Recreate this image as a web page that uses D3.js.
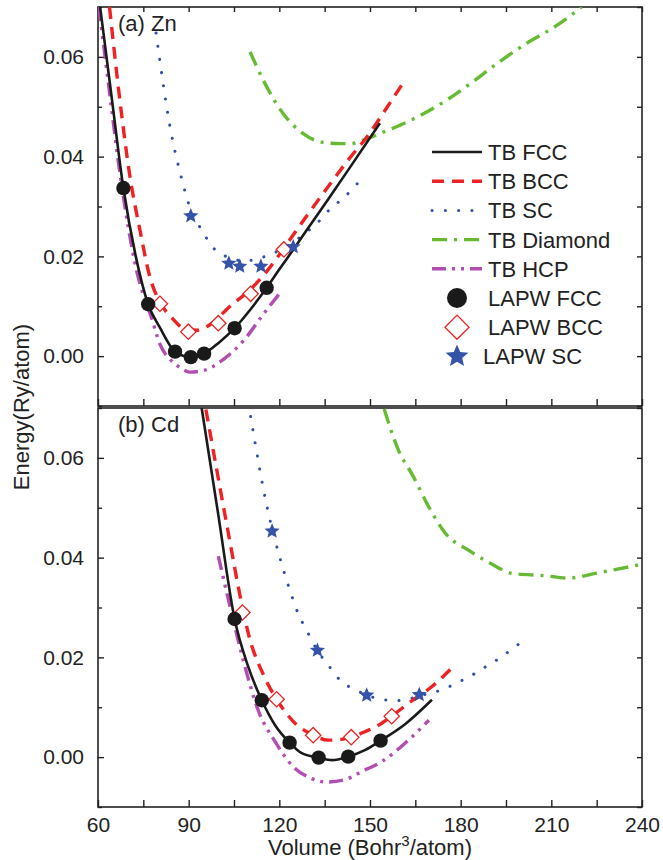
<!DOCTYPE html>
<html><head><meta charset="utf-8">
<script src="https://cdn.jsdelivr.net/npm/d3@7"></script>
<style>
html,body{margin:0;padding:0;background:#fff;}
svg text{font-family:"Liberation Sans",Arial,Helvetica,sans-serif;fill:#222;}
</style></head>
<body>
<svg id="chart" width="663" height="860"></svg>
<script>
// ---------- DATA ----------
const xTicks = [60, 90, 120, 150, 180, 210, 240];
const yTicks = [0.00, 0.02, 0.04, 0.06];
const panelLabels = ["(a) Zn", "(b) Cd"];
const legendLabels = ["TB FCC","TB BCC","TB SC","TB Diamond","TB HCP","LAPW FCC","LAPW BCC","LAPW SC"];

// Panel (a) Zn : TB curves [volume, energy]
const znTbFcc = [[60.7,0.070],[64.5,0.052],[68.4,0.0337],[72.5,0.020],[76.6,0.0104],[80.5,0.0057],[85.5,0.0009],[90.7,-0.0002],[95.1,0.0005],[100,0.0027],[105.2,0.0056],[110.5,0.0094],[115.8,0.0137],[120,0.0174],[125,0.0217],[130,0.0261],[136.8,0.0320],[145,0.0393],[153.3,0.0467]];
const znTbBcc = [[63.8,0.070],[67.3,0.051],[70.6,0.0359],[73.9,0.0252],[77.2,0.0158],[80.5,0.0108],[84.4,0.0077],[89.3,0.0053],[93,0.0052],[97,0.0063],[103.7,0.0100],[110.3,0.0133],[116.9,0.0178],[124,0.0238],[130,0.0289],[136.8,0.0345],[143,0.0395],[149.3,0.0442],[155,0.0493],[161.3,0.0551]];
const znTbSc = [[79.2,0.0648],[83.8,0.0461],[87.7,0.0355],[90.2,0.0302],[94.8,0.0248],[97.6,0.0221],[102,0.0201],[106.4,0.0192],[110.8,0.0192],[114.9,0.0199],[119.6,0.0211],[124.5,0.0228],[128,0.0244],[132.9,0.0269],[136.8,0.0295],[141.4,0.0318],[145.8,0.0346]];
const znTbDiamond = [[110.3,0.061],[114.7,0.0553],[121.3,0.0486],[127.9,0.0446],[134,0.0429],[140,0.0426],[143.4,0.0426],[149,0.0436],[154.4,0.0449],[162.1,0.0469],[175.3,0.0513],[183.1,0.0546],[191.9,0.0586],[201.8,0.0627],[211.8,0.0663],[220,0.070]];
const znTbHcp = [[60.3,0.070],[63.8,0.053],[67.3,0.0365],[72.8,0.0171],[77.7,0.0077],[80.5,0.0024],[84.4,-0.0010],[87.1,-0.0023],[90.4,-0.0032],[94.8,-0.0029],[101.4,-0.0007],[108,0.0030],[114.7,0.0084],[120,0.0125]];
// Panel (a) Zn : LAPW points
const znLapwFcc = [[68.4,0.0337],[76.6,0.0104],[85.5,0.0009],[90.7,-0.0002],[95.1,0.0005],[105.2,0.0056],[115.8,0.0137]];
const znLapwBcc = [[80.5,0.0105],[89.9,0.0049],[99.8,0.0066],[110.5,0.0125],[121.5,0.0214]];
const znLapwSc = [[90.7,0.0281],[103.3,0.0186],[106.9,0.0180],[113.9,0.0180],[124.6,0.0219]];

// Panel (b) Cd : TB curves
const cdTbFcc = [[94.3,0.0700],[99.7,0.0490],[105.2,0.0277],[109.5,0.0185],[114.2,0.0114],[118.6,0.0064],[123.4,0.0029],[127.4,0.0008],[133,-0.0001],[137.5,-0.0006],[142.8,0.0001],[148.3,0.0014],[153.5,0.0033],[161.6,0.0066],[170.5,0.0115]];
const cdTbBcc = [[95.7,0.0697],[102.8,0.0460],[107.8,0.0300],[109.7,0.0249],[115.3,0.0158],[119.1,0.0116],[125.2,0.0068],[131,0.0045],[136.2,0.0034],[141,0.0036],[143.8,0.0040],[148.3,0.0051],[153.9,0.0068],[157.2,0.0082],[162.7,0.0108],[170.4,0.0141],[178.1,0.0185]];
const cdTbSc = [[110.5,0.0683],[116.1,0.0497],[120.6,0.0391],[123.3,0.0338],[126.5,0.0284],[128.8,0.0257],[132.6,0.0214],[137,0.0178],[140.6,0.0151],[145,0.0136],[149,0.0124],[153.9,0.0116],[158.3,0.0113],[162.5,0.0116],[166.3,0.0123],[171.3,0.0130],[175.7,0.0140],[180.1,0.0153],[184.5,0.0167],[189,0.0184],[193.3,0.0200],[197.7,0.0220],[202.1,0.0239]];
const cdTbDiamond = [[154.7,0.0698],[159.3,0.0617],[164.3,0.0563],[169.9,0.0497],[174.8,0.0450],[183.1,0.0413],[189.7,0.0389],[197.4,0.0368],[207.3,0.0364],[215.6,0.0359],[225,0.0369],[239.4,0.0386]];
const cdTbHcp = [[99.8,0.0403],[103.7,0.0302],[108.6,0.0182],[113,0.0094],[118.6,0.0031],[124.1,-0.0016],[130.7,-0.0043],[135.5,-0.0050],[141.7,-0.0045],[148.3,-0.0026],[153.9,-0.0009],[161.6,0.0028],[169.5,0.0074]];
// Panel (b) Cd : LAPW points
const cdLapwFcc = [[105.2,0.0277],[114.2,0.0114],[123.4,0.0029],[133,-0.0001],[142.8,0.0001],[153.5,0.0033]];
const cdLapwBcc = [[107.8,0.0290],[119.1,0.0116],[131.2,0.0044],[143.8,0.0040],[157.2,0.0082]];
const cdLapwSc = [[117.6,0.0453],[132.6,0.0214],[148.9,0.0124],[166.3,0.0125]];

// ---------- STYLES ----------
const lineStyles = {
  fcc:     {color:"#1a1a1a", width:2.6, dash:null, cap:"butt"},
  bcc:     {color:"#ee2222", width:3.4, dash:"12,8", cap:"butt"},
  sc:      {color:"#2f4fa8", width:3, dash:"0.1,13.2", cap:"round"},
  diamond: {color:"#66bb33", width:3.4, dash:"15,7,3,7", cap:"butt"},
  hcp:     {color:"#b24db2", width:3.4, dash:"14,6,3,6,3,6", cap:"butt"}
};
const starBlue = "#3553a8";

const svg = d3.select("#chart");
const x = d3.scaleLinear().domain([60,240]).range([98,642]);
const panels = [
  {y: d3.scaleLinear().domain([-0.01,0.07]).range([406,7]), label: panelLabels[0],
   tb:{fcc:znTbFcc,bcc:znTbBcc,sc:znTbSc,diamond:znTbDiamond,hcp:znTbHcp},
   lapw:{fcc:znLapwFcc,bcc:znLapwBcc,sc:znLapwSc}, top:true},
  {y: d3.scaleLinear().domain([-0.01,0.07]).range([807,408]), label: panelLabels[1],
   tb:{fcc:cdTbFcc,bcc:cdTbBcc,sc:cdTbSc,diamond:cdTbDiamond,hcp:cdTbHcp},
   lapw:{fcc:cdLapwFcc,bcc:cdLapwBcc,sc:cdLapwSc}, top:false}
];

const minorY = [-0.01,0.01,0.03,0.05,0.07];
const minorX = [75,105,135,165,195,225];

function styleAxis(g){
  g.select(".domain").remove();
  g.selectAll(".tick line").attr("stroke","#222").attr("stroke-width",1.4);
  g.selectAll(".tick text").attr("font-size",21).attr("fill","#222")
    .attr("font-family",'"Liberation Sans",Arial,sans-serif');
}

function starPath(r){
  const inner = r*0.45, pts=[];
  for(let i=0;i<10;i++){
    const a = -Math.PI/2 + i*Math.PI/5;
    const rr = i%2===0 ? r : inner;
    pts.push([rr*Math.cos(a), rr*Math.sin(a)]);
  }
  return "M"+pts.map(p=>p[0].toFixed(2)+","+p[1].toFixed(2)).join("L")+"Z";
}

panels.forEach((p,i)=>{
  const y = p.y;
  const [yb, yt] = y.range();
  const g = svg.append("g");
  const clipId = "clip"+i;
  svg.append("clipPath").attr("id",clipId).append("rect")
    .attr("x",x.range()[0]).attr("y",yt).attr("width",x.range()[1]-x.range()[0]).attr("height",yb-yt);

  // axes
  const fmt = d3.format(".2f");
  g.append("g").attr("transform",`translate(${x.range()[0]},0)`)
    .call(d3.axisLeft(y).tickValues(yTicks).tickFormat(fmt).tickSize(-6).tickPadding(14)).call(styleAxis);
  g.append("g").attr("transform",`translate(${x.range()[0]},0)`)
    .call(d3.axisLeft(y).tickValues(minorY).tickFormat("").tickSize(-4)).call(styleAxis);
  g.append("g").attr("transform",`translate(${x.range()[1]},0)`)
    .call(d3.axisRight(y).tickValues(yTicks.concat(minorY)).tickFormat("").tickSize(-5)).call(styleAxis);
  const bottom = g.append("g").attr("transform",`translate(0,${yb})`);
  if(p.top){
    bottom.call(d3.axisBottom(x).tickValues(xTicks).tickFormat("").tickSize(-7)).call(styleAxis);
  } else {
    bottom.call(d3.axisBottom(x).tickValues(xTicks).tickFormat(d3.format("d")).tickSize(-7).tickPadding(10)).call(styleAxis);
  }
  g.append("g").attr("transform",`translate(0,${yb})`)
    .call(d3.axisBottom(x).tickValues(minorX).tickFormat("").tickSize(-7)).call(styleAxis);
  if(p.top){
    g.append("g").attr("transform",`translate(0,${yt})`)
      .call(d3.axisTop(x).tickValues(xTicks.concat(minorX)).tickFormat("").tickSize(-5)).call(styleAxis);
  }
  g.append("rect").attr("x",x.range()[0]).attr("y",yt)
    .attr("width",x.range()[1]-x.range()[0]).attr("height",yb-yt)
    .attr("fill","none").attr("stroke","#222").attr("stroke-width",1.6);

  // curves
  const line = d3.line().x(d=>x(d[0])).y(d=>y(d[1])).curve(d3.curveMonotoneX);
  const cg = g.append("g").attr("clip-path",`url(#${clipId})`);
  ["diamond","sc","hcp","bcc","fcc"].forEach(k=>{
    const s = lineStyles[k];
    cg.append("path").datum(p.tb[k]).attr("d",line)
      .attr("fill","none").attr("stroke",s.color).attr("stroke-width",s.width)
      .attr("stroke-dasharray",s.dash).attr("stroke-linecap",s.cap).attr("stroke-linejoin","round");
  });

  // LAPW markers
  const mg = g.append("g");
  mg.selectAll("path.bcc").data(p.lapw.bcc).join("path")
    .attr("transform",d=>`translate(${x(d[0])},${y(d[1])}) rotate(45)`)
    .attr("d",d3.symbol(d3.symbolSquare, 118))
    .attr("fill","#fff").attr("stroke","#ee2222").attr("stroke-width",1.3);
  mg.selectAll("circle.fcc").data(p.lapw.fcc).join("circle")
    .attr("cx",d=>x(d[0])).attr("cy",d=>y(d[1])).attr("r",7.2).attr("fill","#1a1a1a");
  mg.selectAll("path.sc").data(p.lapw.sc).join("path")
    .attr("transform",d=>`translate(${x(d[0])},${y(d[1])})`)
    .attr("d",starPath(8)).attr("fill",starBlue);

  // panel label
  svg.append("text").attr("x",118).attr("y",yt+24).attr("font-size",22).text(p.label);
});

// legend
const lg = svg.append("g");
const legX0 = 432, legX1 = 482, legTextX = 488;
const rowY = d => 152 + d*29.2;
["fcc","bcc","sc","diamond","hcp"].forEach((k,i)=>{
  const s = lineStyles[k];
  lg.append("line").attr("x1",legX0).attr("x2",legX1).attr("y1",rowY(i)).attr("y2",rowY(i))
    .attr("stroke",s.color).attr("stroke-width",s.width).attr("stroke-dasharray",s.dash)
    .attr("stroke-linecap",s.cap);
  lg.append("text").attr("x",legTextX).attr("y",rowY(i)+8).attr("font-size",22).text(legendLabels[i]);
});
lg.append("circle").attr("cx",457).attr("cy",rowY(5)).attr("r",10).attr("fill","#1a1a1a");
lg.append("text").attr("x",legTextX).attr("y",rowY(5)+8).attr("font-size",22).text(legendLabels[5]);
lg.append("path").attr("transform",`translate(457,${rowY(6)}) rotate(45)`)
  .attr("d",d3.symbol(d3.symbolSquare, 290)).attr("fill","#fff").attr("stroke","#ee2222").attr("stroke-width",1.3);
lg.append("text").attr("x",legTextX).attr("y",rowY(6)+8).attr("font-size",22).text(legendLabels[6]);
lg.append("path").attr("transform",`translate(457,${rowY(7)})`).attr("d",starPath(12)).attr("fill",starBlue);
lg.append("text").attr("x",483).attr("y",rowY(7)+8).attr("font-size",22).text(legendLabels[7]);

// axis titles
const xt = svg.append("text").attr("x",370).attr("y",855).attr("text-anchor","middle").attr("font-size",22);
xt.append("tspan").text("Volume (Bohr");
xt.append("tspan").attr("dy",-9).attr("font-size",15).text("3");
xt.append("tspan").attr("dy",9).text("/atom)");
svg.append("text").attr("transform","translate(29,407) rotate(-90)").attr("text-anchor","middle")
  .attr("font-size",22).text("Energy(Ry/atom)");
</script>
</body></html>
